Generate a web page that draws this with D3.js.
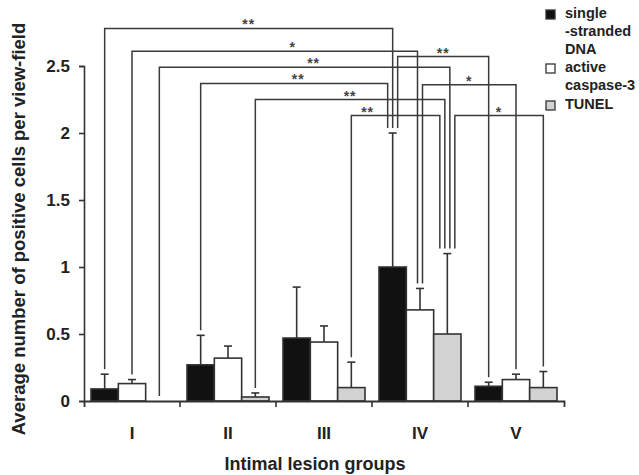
<!DOCTYPE html>
<html>
<head>
<meta charset="utf-8">
<script src="https://cdn.jsdelivr.net/npm/d3@7"></script>
<style>
  body { margin: 0; background: #fff; }
  text { font-family: "Liberation Sans", Arial, sans-serif; font-weight: bold; fill: #222; }
</style>
</head>
<body>
<script>
// values (mean, and upper error = sd)
var groups = ["I", "II", "III", "IV", "V"];
var ssDNA = [0.09, 0.27, 0.47, 1.00, 0.11];
var ssDNAsd = [0.11, 0.22, 0.38, 1.00, 0.03];
var caspase3 = [0.13, 0.32, 0.44, 0.68, 0.16];
var caspase3sd = [0.03, 0.09, 0.12, 0.16, 0.04];
var tunel = [0, 0.03, 0.10, 0.50, 0.10];
var tunelsd = [0, 0.03, 0.19, 0.60, 0.12];
var yTicks = [0, 0.5, 1, 1.5, 2, 2.5];

var legendLines = [["single", "-stranded", "DNA"], ["active", "caspase-3"], ["TUNEL"]];
var fills = ["#111", "#fff", "#d2d2d2"];

// significance brackets: groups compared, series index, bracket height, label
var bracketFrom = ["I", "I", "IV", "I", "II", "IV", "II", "III", "IV"];
var bracketTo = ["IV", "IV", "V", "IV", "IV", "V", "IV", "IV", "V"];
var bracketSeries = [0, 1, 0, 2, 0, 1, 2, 2, 2];
var bracketHeight = [2.78, 2.61, 2.57, 2.49, 2.37, 2.36, 2.25, 2.13, 2.13];
var bracketLabel = ["**", "*", "**", "**", "**", "*", "**", "**", "*"];
var labelShift = [0, 18, 0, 9, 4, 0, 0, -28, 0];

var width = 639, height = 475;

var means = [ssDNA, caspase3, tunel];
var sds = [ssDNAsd, caspase3sd, tunelsd];

var data = [];
groups.forEach((g, i) => {
  means.forEach((m, s) => data.push({group: g, gi: i, s: s, v: m[i], sd: sds[s][i]}));
});

var svg = d3.select("body").append("svg")
  .attr("width", width)
  .attr("height", height);

var x = d3.scaleBand()
  .domain(groups)
  .range([84, 564]);

var xs = d3.scaleBand()
  .domain([0, 1, 2])
  .range([7, 89]);

var y = d3.scaleLinear()
  .domain([0, 2.5])
  .range([401, 66]);

var cx = d => x(d.group) + xs(d.s) + xs.bandwidth() / 2;

// bars
svg.append("g")
  .selectAll("rect")
  .data(data.filter(d => d.v > 0))
  .join("rect")
    .attr("x", d => x(d.group) + xs(d.s))
    .attr("y", d => y(d.v))
    .attr("width", xs.bandwidth())
    .attr("height", d => y(0) - y(d.v))
    .attr("fill", d => fills[d.s])
    .attr("stroke", "#333")
    .attr("stroke-width", 1.6);

// error bars (upper only)
var err = svg.append("g")
  .attr("stroke", "#333")
  .attr("stroke-width", 1.6)
  .selectAll("g")
  .data(data.filter(d => d.sd > 0))
  .join("g");

err.append("line")
  .attr("x1", cx).attr("x2", cx)
  .attr("y1", d => y(d.v))
  .attr("y2", d => y(d.v + d.sd));

err.append("line")
  .attr("x1", d => cx(d) - 4).attr("x2", d => cx(d) + 4)
  .attr("y1", d => y(d.v + d.sd))
  .attr("y2", d => y(d.v + d.sd));

// brackets
var brackets = bracketFrom.map((a, i) => ({
  a: a, b: bracketTo[i], s: bracketSeries[i], h: bracketHeight[i],
  label: bracketLabel[i], shift: labelShift[i]
}));

// spread the ends that land on the same bar
var ends = {};
brackets.forEach(br => {
  [["a", "b"], ["b", "a"]].forEach(([me, other]) => {
    var key = br[me] + "-" + br.s;
    (ends[key] = ends[key] || []).push({br: br, me: me,
      left: groups.indexOf(br[other]) < groups.indexOf(br[me])});
  });
});
Object.values(ends).forEach(list => {
  list.sort((p, q) => (p.left === q.left) ? (p.left ? p.br.h - q.br.h : q.br.h - p.br.h) : (p.left ? -1 : 1));
  list.forEach((e, i) => { e.br[e.me + "Off"] = (i - (list.length - 1) / 2) * 5; });
});

var endPoint = (g, s, off) => {
  var d = data.find(e => e.group === g && e.s === s);
  return [cx(d) + off, y(d.v + d.sd) - 5];
};

var bg = svg.append("g");

brackets.forEach(br => {
  var p = endPoint(br.a, br.s, br.aOff);
  var q = endPoint(br.b, br.s, br.bOff);
  var top = y(br.h);
  bg.append("path")
    .attr("fill", "none")
    .attr("stroke", "#3a3a3a")
    .attr("stroke-width", 1.5)
    .attr("d", d3.line()([[p[0], p[1]], [p[0], top], [q[0], top], [q[0], q[1]]]));
  bg.append("text")
    .attr("x", (p[0] + q[0]) / 2 + br.shift)
    .attr("y", top + 1)
    .attr("text-anchor", "middle")
    .attr("font-size", 14)
    .attr("letter-spacing", 1)
    .style("fill", "#444")
    .text(br.label);
});

// y axis
svg.append("g")
  .attr("transform", "translate(84,0)")
  .call(d3.axisLeft(y).tickValues(yTicks).tickSize(5).tickPadding(9).tickFormat(d3.format("")))
  .call(g => g.selectAll("path, line").attr("stroke", "#333").attr("stroke-width", 1.6))
  .call(g => g.selectAll("text").attr("font-size", 17).attr("font-family", null).style("fill", "#222"));

// x axis
svg.append("g")
  .attr("transform", "translate(0,401)")
  .call(d3.axisBottom(x).tickSizeInner(0).tickSizeOuter(6).tickPadding(26))
  .call(g => g.selectAll(".tick line").remove())
  .call(g => g.select(".domain").attr("stroke", "#333").attr("stroke-width", 1.8))
  .call(g => g.selectAll("text").attr("font-size", 17).attr("font-family", null).style("fill", "#222"))
  .call(g => g.append("g")
    .selectAll("line")
    .data(groups.slice(1))
    .join("line")
      .attr("x1", d => x(d)).attr("x2", d => x(d))
      .attr("y1", 0).attr("y2", 6)
      .attr("stroke", "#333")
      .attr("stroke-width", 1.6));

// axis titles
svg.append("text")
  .attr("x", 315)
  .attr("y", 470)
  .attr("text-anchor", "middle")
  .attr("font-size", 18)
  .text("Intimal lesion groups");

svg.append("text")
  .attr("transform", "translate(25,229) rotate(-90)")
  .attr("text-anchor", "middle")
  .attr("font-size", 18.5)
  .text("Average number of positive cells per view-field");

// legend
var legendY = [10, 64, 101];
var legend = svg.append("g")
  .selectAll("g")
  .data(legendLines)
  .join("g")
    .attr("transform", (d, i) => `translate(546,${legendY[i]})`);

legend.append("rect")
  .attr("width", 9)
  .attr("height", 9)
  .attr("fill", (d, i) => fills[i])
  .attr("stroke", "#333")
  .attr("stroke-width", 1.3);

legend.append("text")
  .attr("font-size", 14.5)
  .selectAll("tspan")
  .data(d => d)
  .join("tspan")
    .attr("x", 19)
    .attr("y", (d, i) => 8 + i * 18)
    .text(d => d);
</script>
</body>
</html>
